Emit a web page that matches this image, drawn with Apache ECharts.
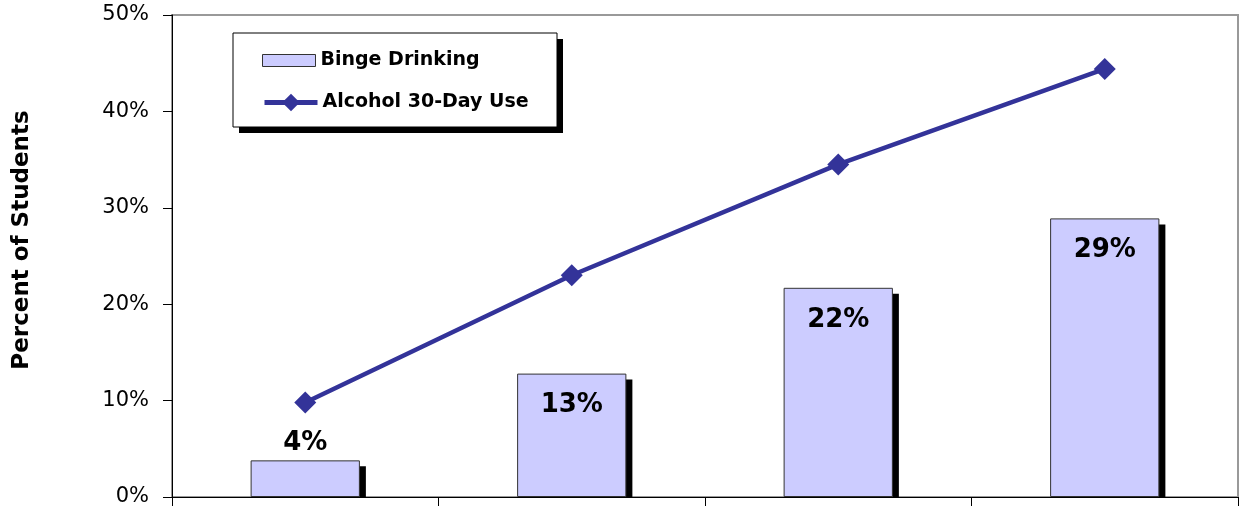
<!DOCTYPE html>
<html><head><meta charset="utf-8">
<script src="https://cdn.jsdelivr.net/npm/echarts@6/dist/echarts.min.js"></script>
<style>html,body{margin:0;padding:0;background:#fff}#c{width:1241px;height:510px}</style>
</head><body><div id="c"></div>
<script>
const categories = ['A', 'B', 'C', 'D'];
const bingeDrinking = [3.8, 12.8, 21.7, 28.9];
const bingeLabels = ['4%', '13%', '22%', '29%'];
const alcohol30Day = [9.8, 23.0, 34.5, 44.4];
const yTicks = [0, 10, 20, 30, 40, 50];

const FONT = 'DejaVu Sans';
const BAR_RATIO = 0.41;
const chart = echarts.init(document.getElementById('c'));
chart.setOption({
  animation: false,
  textStyle: { fontFamily: FONT },
  grid: { left: 172, right: 3, top: 15, bottom: 13, show: true, borderColor: '#999', borderWidth: 2, backgroundColor: 'transparent' },
  graphic: [
    { type: 'rect', z: 5, shape: { x: 239, y: 39, width: 324, height: 94 }, style: { fill: '#000' } },
    { type: 'rect', z: 6, shape: { x: 233, y: 33, width: 324, height: 94 }, style: { fill: '#fff', stroke: '#000', lineWidth: 1 } },
    { type: 'text', z: 6, x: 22, y: 240, rotation: Math.PI / 2,
      style: { text: 'Percent of Students', font: 'bold 23px ' + FONT, fill: '#000', textAlign: 'center', textVerticalAlign: 'middle' } }
  ],
  legend: [
    {
      z: 10, orient: 'vertical', left: 262, top: 51, padding: 0, itemWidth: 53, itemHeight: 12,
      textStyle: { fontFamily: FONT, fontSize: 19, fontWeight: 'bold', color: '#000' },
      data: [{ name: 'Binge Drinking', icon: 'rect', itemStyle: { color: '#ccccff', borderColor: '#333', borderWidth: 1 } }]
    },
    {
      z: 10, orient: 'vertical', left: 262, top: 93, padding: 0, itemWidth: 53, itemHeight: 22,
      textStyle: { fontFamily: FONT, fontSize: 19, fontWeight: 'bold', color: '#000' },
      data: [{ name: 'Alcohol 30-Day Use', lineStyle: { width: 5, color: '#333399' } }]
    }
  ],
  xAxis: {
    type: 'category', data: categories, boundaryGap: true,
    axisLine: { lineStyle: { color: '#000', width: 1 } },
    axisTick: { show: true, length: 9, alignWithLabel: false, lineStyle: { color: '#000' } },
    axisLabel: { show: false }, splitLine: { show: false }, z: 10
  },
  yAxis: {
    type: 'value', min: 0, max: 50, interval: 10,
    axisLine: { show: true, lineStyle: { color: '#000', width: 1 } },
    axisTick: { show: true, length: 9, lineStyle: { color: '#000' } },
    axisLabel: { formatter: v => yTicks.includes(v) ? v + '%' : '', fontSize: 21, color: '#000', margin: 23, fontFamily: FONT },
    splitLine: { show: false }
  },
  series: [
    {
      name: 'shadow', type: 'custom', z: 1, silent: true,
      data: bingeDrinking.map((v, i) => [i, v]),
      encode: { x: 0, y: 1 },
      renderItem: (params, api) => {
        const top = api.coord([api.value(0), api.value(1)]);
        const base = api.coord([api.value(0), 0]);
        const band = api.size([1, 0])[0];
        const w = band * BAR_RATIO;
        const off = 6;
        return { type: 'rect', shape: { x: top[0] - w / 2 + off, y: top[1] + off, width: w, height: base[1] - top[1] - off }, style: { fill: '#000' } };
      }
    },
    {
      name: 'Binge Drinking', type: 'bar', barWidth: (BAR_RATIO * 100) + '%', z: 2,
      data: bingeDrinking.map((v, i) => ({
        value: v,
        label: i === 0 ? { position: 'top', distance: 4 } : { position: 'insideTop', distance: 19 }
      })),
      itemStyle: { color: '#ccccff', borderColor: '#333', borderWidth: 1 },
      label: { show: true, formatter: p => bingeLabels[p.dataIndex], fontSize: 26, fontWeight: 'bold', color: '#000', fontFamily: FONT }
    },
    {
      name: 'Alcohol 30-Day Use', type: 'line', z: 4, data: alcohol30Day,
      symbol: 'diamond', symbolSize: 22,
      lineStyle: { color: '#333399', width: 4.5 },
      itemStyle: { color: '#333399' }
    }
  ]
});
</script></body></html>
